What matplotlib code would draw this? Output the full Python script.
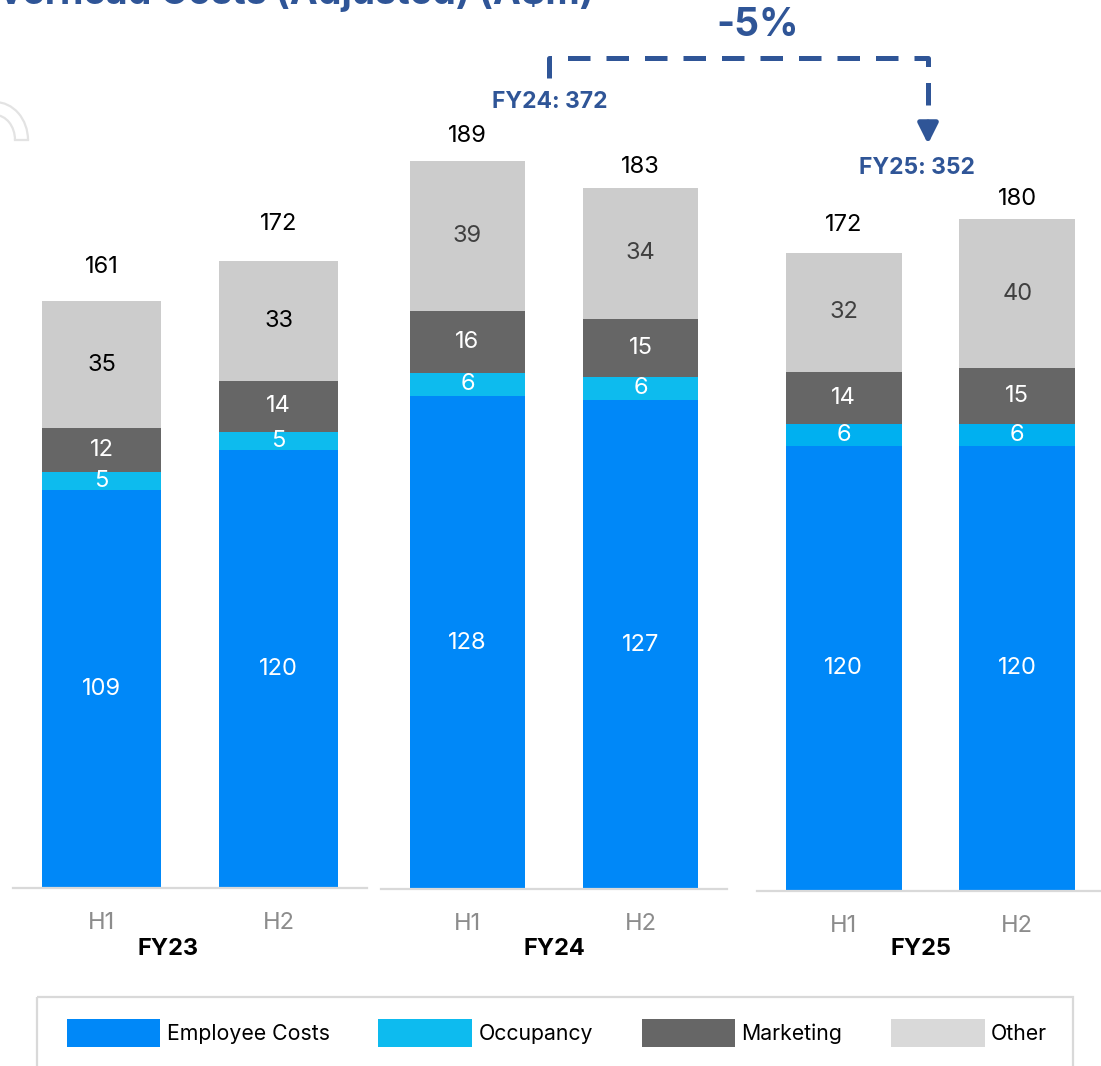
import numpy as np
import matplotlib
matplotlib.use("Agg")
from matplotlib import pyplot as plt
from matplotlib.patches import Patch, Arc, Rectangle

plt.rcParams['font.family'] = ['Inter', 'DejaVu Sans']

# Data
years = ["FY23", "FY24", "FY25"]
halves = ["H1", "H2"]
series = ["Employee Costs", "Occupancy", "Marketing", "Other"]
employee = [109, 120, 128, 127, 120, 120]
occupancy = [5, 5, 6, 6, 6, 6]
marketing = [12, 14, 16, 15, 14, 15]
other = [35, 33, 39, 34, 32, 40]
totals = [161, 172, 189, 183, 172, 180]
fy_labels = ["FY24: 372", "FY25: 352"]
change_label = "-5%"
title = "Overhead Costs (Adjusted) (A$m)"

W, H = 1101, 1066
DARK_BLUE = "#2F5597"

# colours
c_employee = "#0088F8"
c_occupancy = ["#0DBBEE", "#0DBBEE", "#00B0F0"]
c_marketing = "#666666"
c_other = "#CCCCCC"
other_txt = ["black", "#404040", "#404040"]
legend_colors = ["#0088F8", "#0DBBEF", "#666666", "#D9D9D9"]

# panel layout in pixels: left, right, baseline, px per unit
panels = [(13, 367, 888, 3.648), (381, 727, 889.3, 3.855), (757, 1104, 891, 3.71)]
total_offsets = [34, 37, 25, 21, 28, 20]
year_label_x = [168, 554, 921]   # group labels are not centred on the panels

fig = plt.figure(figsize=(W / 100, H / 100), dpi=100)


def seg_label(ax, x, bottom, val, color):
    ax.text(x, bottom + val / 2, str(val), ha='center', va='center',
            color=color, fontsize=17)


for p, (left, right, base, scale) in enumerate(panels):
    ax = fig.add_axes([left / W, 1 - base / H, (right - left) / W, base / H])
    ax.set_xlim(-0.5, 1.5)
    ax.set_ylim(0, base / scale)
    idx = [2 * p, 2 * p + 1]
    x = np.arange(2)
    e = np.array([employee[i] for i in idx])
    o = np.array([occupancy[i] for i in idx])
    m = np.array([marketing[i] for i in idx])
    ot = np.array([other[i] for i in idx])
    w = 0.667
    ax.bar(x, e, w, color=c_employee)
    ax.bar(x, o, w, bottom=e, color=c_occupancy[p])
    ax.bar(x, m, w, bottom=e + o, color=c_marketing)
    ax.bar(x, ot, w, bottom=e + o + m, color=c_other)
    for k in range(2):
        seg_label(ax, x[k], 0, e[k], 'white')
        seg_label(ax, x[k], e[k], o[k], 'white')
        seg_label(ax, x[k], e[k] + o[k], m[k], 'white')
        seg_label(ax, x[k], e[k] + o[k] + m[k], ot[k], other_txt[p])
        top = e[k] + o[k] + m[k] + ot[k]
        ax.annotate(str(totals[idx[k]]), (x[k], top), xytext=(0, total_offsets[idx[k]]),
                    textcoords='offset pixels', ha='center', va='center',
                    fontsize=17, color='black')
    for s in ['top', 'left', 'right']:
        ax.spines[s].set_visible(False)
    ax.spines['bottom'].set_color('#D9D9D9')
    ax.spines['bottom'].set_linewidth(1.6)
    ax.set_yticks([])
    ax.set_xticks(x)
    ax.set_xticklabels(halves, fontsize=17, color='#8C8C8C')
    ax.tick_params(axis='x', length=0, pad=17)
    ax.patch.set_visible(False)

# overlay in pixel coords for the annotations
ov = fig.add_axes([0, 0, 1, 1])
ov.set_xlim(0, W)
ov.set_ylim(H, 0)
ov.axis('off')

for p in range(3):
    ov.text(year_label_x[p], 949, years[p], ha='center', va='center',
            fontsize=17, fontweight='bold', color='black')

ov.text(594, 4, title, fontsize=27, fontweight='bold', color=DARK_BLUE,
        ha='right', va='baseline')

# bracket with arrow
ov.plot([549, 549, 928, 928], [78, 58, 58, 124], color=DARK_BLUE, lw=3.6,
        dashes=(4.5, 3.2), solid_capstyle='butt', dash_capstyle='butt')
ov.annotate('', xy=(928, 144), xytext=(928, 122),
            arrowprops=dict(arrowstyle='-|>', color=DARK_BLUE, lw=3.6,
                            mutation_scale=30, shrinkA=0, shrinkB=0))
ov.text(758, 26, change_label, fontsize=28, fontweight='bold', color=DARK_BLUE,
        ha='center', va='center')
ov.text(550, 102, fy_labels[0], fontsize=16.5, fontweight='bold', color=DARK_BLUE,
        ha='center', va='center')
ov.text(917, 168, fy_labels[1], fontsize=16.5, fontweight='bold', color=DARK_BLUE,
        ha='center', va='center')

# faint icon at the left edge
ov.add_patch(Arc((-5, 140), 66, 76, theta1=270, theta2=360, color='#E3E3E3', lw=1.6))
ov.add_patch(Arc((-5, 140), 40, 50, theta1=270, theta2=360, color='#E3E3E3', lw=1.6))
ov.plot([15, 28], [140, 140], color='#E3E3E3', lw=1.6)

# legend box
ov.add_patch(Rectangle((37, 997), 1036, 100, fill=False, edgecolor='#D9D9D9', lw=1.6))
handles = [Patch(facecolor=c, edgecolor='none') for c in legend_colors]
fig.legend(handles, series, loc='center', bbox_to_anchor=(557 / W, 1 - 1033 / H),
           ncol=4, frameon=False, fontsize=15.3, handlelength=4.4, handleheight=1.6,
           handletextpad=0.3, columnspacing=2.3)

fig.savefig("out.png", dpi=100)
